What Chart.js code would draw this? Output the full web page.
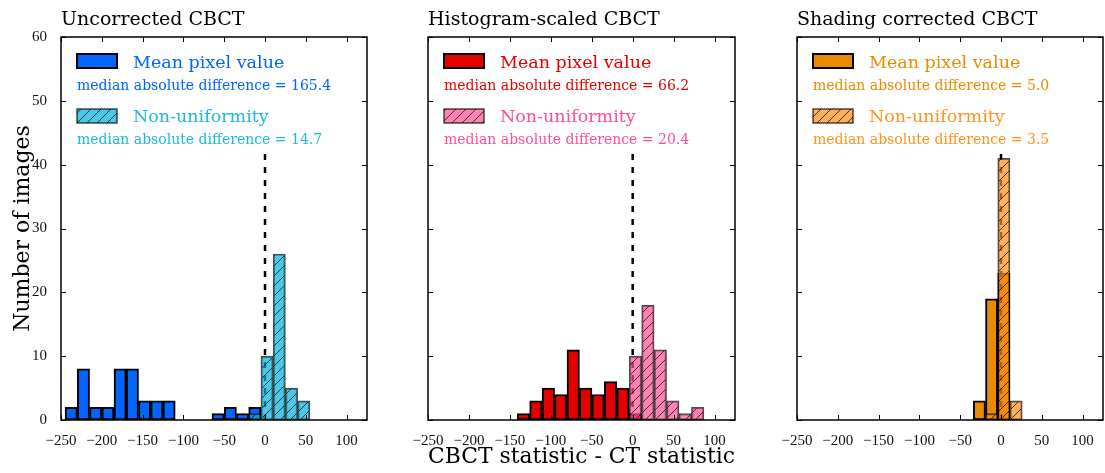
<!DOCTYPE html>
<html>
<head>
<meta charset="utf-8">
<script src="https://cdn.jsdelivr.net/npm/chart.js@4.4.1/dist/chart.umd.min.js"></script>
<style>
body{margin:0;background:#fff;width:1105px;height:473px;position:relative;overflow:hidden}
canvas{position:absolute;top:0}
</style>
</head>
<body>
<canvas id="c1" width="375" height="473" style="left:0px"></canvas>
<canvas id="c2" width="365" height="473" style="left:375px"></canvas>
<canvas id="c3" width="365" height="473" style="left:740px"></canvas>
<script>
const panelTitles=["Uncorrected CBCT","Histogram-scaled CBCT","Shading corrected CBCT"];
const seriesNames=["Mean pixel value","Non-uniformity"];
const meanMedian=["165.4","66.2","5.0"];
const nonuniMedian=["14.7","20.4","3.5"];
// histogram bin centres and counts
const meanBins1=[-237.5,-222.5,-207.5,-192.5,-177.5,-162.5,-147.5,-132.5,-117.5,-57.5,-42.5,-27.5,-12.5];
const meanCounts1=[2,8,2,2,8,8,3,3,3,1,2,1,2];
const nonuniBins1=[-12.5,2.5,17.5,32.5,47.5];
const nonuniCounts1=[1,10,26,5,3];
const meanBins2=[-133.4,-118.2,-103,-87.8,-72.6,-57.4,-42.2,-27,-11.8,3.4];
const meanCounts2=[1,3,5,4,11,5,4,6,5,1];
const nonuniBins2=[3.4,18.6,33.8,49,64.2,79.4];
const nonuniCounts2=[10,18,11,3,1,2];
const meanBins3=[-26.5,-11.5,3.5];
const meanCounts3=[3,19,23];
const nonuniBins3=[-11.5,3.5,18.5];
const nonuniCounts3=[1,41,3];
const zeroLine=[0,42];
const xLabel="CBCT statistic - CT statistic";
const yLabel="Number of images";

const SERIF="DejaVu Serif";
const TICKFONT="Liberation Serif";

function hatch(color){
    const c=document.createElement("canvas");
    c.width=10;c.height=10;
    const g=c.getContext("2d");
    g.fillStyle=color;
    g.fillRect(0,0,10,10);
    g.strokeStyle="rgba(0,0,0,0.7)";
    g.lineWidth=1;
    g.beginPath();
    g.moveTo(-1,11);g.lineTo(11,-1);
    g.stroke();
    return g.createPattern(c,"repeat");
}
function minus(v){
    return v<0?"\u2212"+Math.abs(v):String(v);
}

const frame={
    id:"frame",
    afterDatasetsDraw(chart){
        const {ctx,chartArea:a,scales:{x,y}}=chart;
        ctx.save();
        ctx.strokeStyle="#000";
        ctx.lineWidth=1;
        const line=(x1,y1,x2,y2)=>{ctx.beginPath();ctx.moveTo(x1,y1);ctx.lineTo(x2,y2);ctx.stroke();};
        x.ticks.forEach(t=>{
            const p=Math.round(x.getPixelForValue(t.value))+0.5;
            line(p,a.bottom,p,a.bottom-5);
            line(p,a.top,p,a.top+5);
        });
        y.ticks.forEach(t=>{
            const p=Math.round(y.getPixelForValue(t.value))+0.5;
            line(a.left,p,a.left+5,p);
            line(a.right,p,a.right-5,p);
        });
        ctx.lineWidth=1.5;
        ctx.strokeRect(a.left,a.top,a.width,a.height);
        ctx.restore();
    }
};

const legendBox={
    id:"legendBox",
    afterDraw(chart,args,opts){
        const {ctx,chartArea:a}=chart;
        const x0=a.left+16;
        ctx.save();
        // mean patch
        ctx.fillStyle=opts.meanColor;
        ctx.fillRect(x0,a.top+17,40,14);
        ctx.strokeStyle="#000";
        ctx.lineWidth=2;
        ctx.strokeRect(x0,a.top+17,40,14);
        // non-uniformity patch
        ctx.fillStyle=opts.hatchFill;
        ctx.fillRect(x0,a.top+72,40,14);
        ctx.strokeStyle="rgba(0,0,0,0.7)";
        ctx.lineWidth=1.5;
        ctx.strokeRect(x0,a.top+72,40,14);
        ctx.textBaseline="alphabetic";
        ctx.textAlign="left";
        ctx.font="17.5px '"+SERIF+"'";
        ctx.fillStyle=opts.meanColor;
        ctx.fillText(seriesNames[0],x0+56,a.top+31);
        ctx.fillStyle=opts.nonuniText;
        ctx.fillText(seriesNames[1],x0+56,a.top+85);
        ctx.font="14px '"+SERIF+"'";
        ctx.fillStyle=opts.meanColor;
        ctx.fillText("median absolute difference = "+opts.meanMed,x0,a.top+53);
        ctx.fillStyle=opts.nonuniText;
        ctx.fillText("median absolute difference = "+opts.nonuniMed,x0,a.top+107);
        ctx.restore();
    }
};

function makePanel(id,idx,meanBins,meanCounts,nonuniBins,nonuniCounts,col,lay){
    const fill=hatch(col.nonuniFill);
    new Chart(document.getElementById(id),{
        data:{
            datasets:[
                {
                    type:"bar",
                    label:seriesNames[0],
                    data:meanBins.map((v,i)=>({x:v,y:meanCounts[i]})),
                    backgroundColor:col.mean,
                    borderColor:"#000",
                    borderWidth:2,
                    borderSkipped:false,
                    grouped:false,
                    barPercentage:1,
                    categoryPercentage:1,
                    order:3
                },
                {
                    type:"line",
                    data:zeroLine.map(v=>({x:0,y:v})),
                    borderColor:"#000",
                    borderWidth:2.5,
                    borderDash:[6,7],
                    pointRadius:0,
                    order:2
                },
                {
                    type:"bar",
                    label:seriesNames[1],
                    data:nonuniBins.map((v,i)=>({x:v,y:nonuniCounts[i]})),
                    backgroundColor:fill,
                    borderColor:"rgba(0,0,0,0.7)",
                    borderWidth:1.5,
                    borderSkipped:false,
                    grouped:false,
                    barPercentage:1,
                    categoryPercentage:1,
                    order:1
                }
            ]
        },
        options:{
            responsive:false,
            animation:false,
            layout:{padding:{left:0,right:lay.padRight,top:0,bottom:0}},
            plugins:{
                legend:{display:false},
                tooltip:{enabled:false},
                title:{
                    display:true,
                    text:panelTitles[idx],
                    align:"start",
                    fullSize:false,
                    color:"#000",
                    font:{family:SERIF,size:19,weight:"normal"},
                    padding:{top:9,bottom:5.2}
                },
                legendBox:{
                    meanColor:col.mean,
                    hatchFill:fill,
                    nonuniText:col.nonuniText,
                    meanMed:meanMedian[idx],
                    nonuniMed:nonuniMedian[idx]
                }
            },
            scales:{
                x:{
                    type:"linear",
                    min:-250,
                    max:125,
                    offset:false,
                    grid:{display:false,offset:false},
                    border:{display:false},
                    ticks:{
                        stepSize:50,
                        includeBounds:false,
                        autoSkip:false,
                        maxRotation:0,
                        padding:4,
                        color:"#111",
                        font:{family:TICKFONT,size:15},
                        callback:v=>minus(v)
                    },
                    title:{
                        display:idx===1,
                        text:xLabel,
                        color:"#000",
                        font:{family:SERIF,size:22},
                        padding:{top:0,bottom:3}
                    },
                    afterFit:s=>{s.height=53;}
                },
                y:{
                    type:"linear",
                    min:0,
                    max:60,
                    grid:{display:false},
                    border:{display:false},
                    ticks:{
                        display:idx===0,
                        stepSize:10,
                        padding:6,
                        color:"#111",
                        font:{family:TICKFONT,size:15}
                    },
                    title:{
                        display:idx===0,
                        text:yLabel,
                        color:"#000",
                        font:{family:SERIF,size:22},
                        padding:{top:10,bottom:0}
                    },
                    afterFit:s=>{s.width=lay.yWidth;}
                }
            }
        },
        plugins:[frame,legendBox]
    });
}

makePanel("c1",0,meanBins1,meanCounts1,nonuniBins1,nonuniCounts1,
    {mean:"#0066ff",nonuniFill:"rgba(0,177,221,0.7)",nonuniText:"#1ab8e2"},
    {yWidth:61,padRight:8});
makePanel("c2",1,meanBins2,meanCounts2,nonuniBins2,nonuniCounts2,
    {mean:"#e50000",nonuniFill:"rgba(255,77,149,0.7)",nonuniText:"#ff4d95"},
    {yWidth:53,padRight:5});
makePanel("c3",2,meanBins3,meanCounts3,nonuniBins3,nonuniCounts3,
    {mean:"#e98b00",nonuniFill:"rgba(255,140,26,0.7)",nonuniText:"#ff921f"},
    {yWidth:57,padRight:2});
</script>
</body>
</html>
